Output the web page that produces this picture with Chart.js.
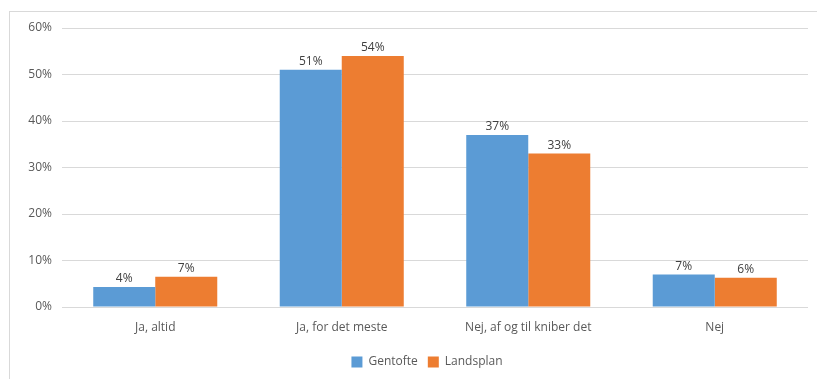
<!DOCTYPE html>
<html>
<head>
<meta charset="utf-8">
<script src="https://cdn.jsdelivr.net/npm/chart.js@4"></script>
<style>
  html, body { margin: 0; padding: 0; background: #fff; }
  #wrap { position: relative; width: 817px; height: 379px; }
  #frame { position: absolute; left: 9px; top: 11px; right: 0; bottom: 0;
           border-left: 1px solid #d9d9d9; border-top: 1px solid #d9d9d9; }
  canvas { position: absolute; left: 0; top: 0; }
</style>
</head>
<body>
<div id="wrap">
  <div id="frame"></div>
  <canvas id="chart" width="817" height="379"></canvas>
</div>
<script>
const categories = ["Ja, altid", "Ja, for det meste", "Nej, af og til kniber det", "Nej"];
const gentofte = [4.3, 51, 37, 7];
const landsplan = [6.5, 54, 33, 6.3];
const gentofteLabels = ["4%", "51%", "37%", "7%"];
const landsplanLabels = ["7%", "54%", "33%", "6%"];

const font = "'Open Sans', 'DejaVu Sans', sans-serif";

// draw the percentage above each bar
const barLabels = {
  id: "barLabels",
  afterLayout(chart) {
    // legend sits a bit right of centre in the original
    chart.legend.left += 18;
    chart.legend.right += 18;
  },
  afterDatasetsDraw(chart) {
    const ctx = chart.ctx;
    const texts = [gentofteLabels, landsplanLabels];
    ctx.save();
    ctx.font = "12px " + font;
    ctx.fillStyle = "#404040";
    ctx.textAlign = "center";
    ctx.textBaseline = "bottom";
    chart.data.datasets.forEach((ds, i) => {
      chart.getDatasetMeta(i).data.forEach((bar, j) => {
        ctx.fillText(texts[i][j], bar.x, bar.y - 2);
      });
    });
    ctx.restore();
  },
};

new Chart(document.getElementById("chart"), {
  type: "bar",
  data: {
    labels: categories,
    datasets: [
      {
        label: "Gentofte",
        data: gentofte,
        backgroundColor: "#5b9bd5",
      },
      {
        label: "Landsplan",
        data: landsplan,
        backgroundColor: "#ed7d31",
      },
    ],
  },
  options: {
    responsive: false,
    animation: false,
    layout: { padding: { left: 10, top: 28, right: 9, bottom: 1 } },
    datasets: {
      bar: { categoryPercentage: 0.665, barPercentage: 1 },
    },
    plugins: {
      tooltip: { enabled: false },
      legend: {
        position: "bottom",
        labels: {
          boxWidth: 11,
          boxHeight: 11,
          padding: 10,
          color: "#595959",
          font: { family: font, size: 12 },
        },
      },
    },
    scales: {
      x: {
        grid: { display: false },
        border: { display: false },
        ticks: {
          color: "#595959",
          padding: 5,
          font: { family: font, size: 12 },
        },
        afterFit: (scale) => { scale.height = 39; },
      },
      y: {
        min: 0,
        max: 60,
        grid: { color: "#d9d9d9", drawTicks: false },
        border: { display: false },
        ticks: {
          stepSize: 10,
          padding: 10,
          color: "#595959",
          font: { family: font, size: 12 },
          callback: (v) => v + "%",
        },
        afterFit: (scale) => { scale.width = 52; },
      },
    },
  },
  plugins: [barLabels],
});
</script>
</body>
</html>
